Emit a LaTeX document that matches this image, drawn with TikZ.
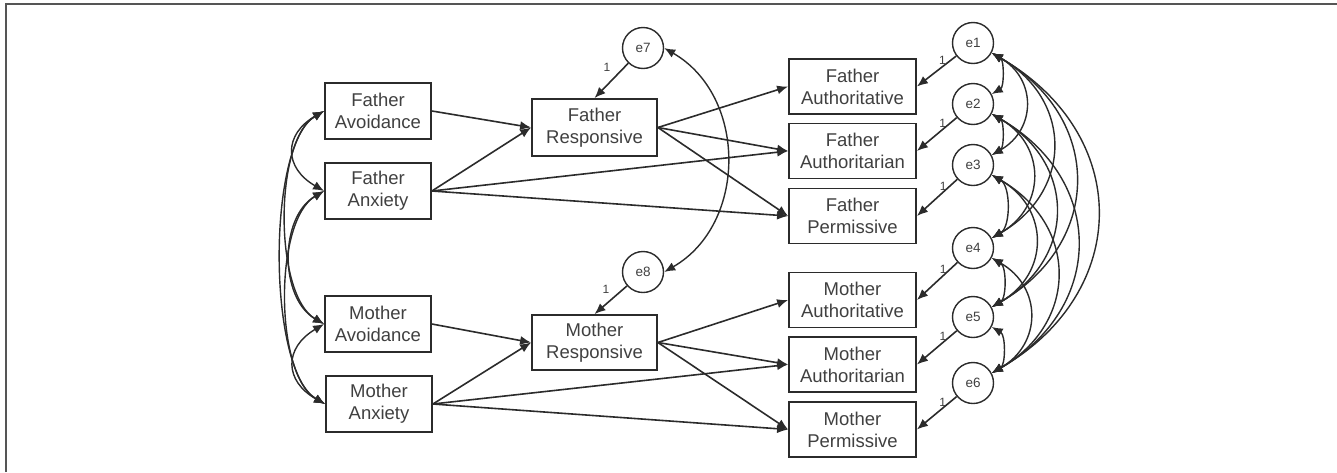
\documentclass[tikz,border=0pt]{standalone}
\usepackage{fontspec}
\setmainfont{Liberation Sans}
\usepackage{xcolor}
\usetikzlibrary{arrows.meta}
\definecolor{ink}{HTML}{2B2B2B}
\definecolor{inkgray}{HTML}{404040}
\definecolor{framegray}{HTML}{555555}
\tikzset{
  varbox/.style={draw=ink,fill=white,line width=1.8pt,
                 minimum width=106pt,minimum height=56pt,inner sep=0pt,
                 align=center,text=inkgray,font=\fontsize{18.5}{22}\selectfont},
  errcirc/.style={circle,draw=ink,fill=white,line width=1.4pt,
                  minimum size=41pt,inner sep=0pt,
                  text=inkgray,font=\fontsize{13.5}{15}\selectfont},
  patharr/.style={-{Latex[length=11pt,width=9pt]},line width=1.6pt,color=ink},
  covarr/.style={{Latex[length=11pt,width=9pt]}-{Latex[length=11pt,width=9pt]},line width=1.4pt,color=ink},
  onelbl/.style={font=\fontsize{12}{13}\selectfont,text=inkgray,inner sep=1pt}
}

\begin{document}
\begin{tikzpicture}[x=1pt,y=1pt]
  \useasboundingbox (0,0) rectangle (1337,-472);
  \draw[framegray,line width=2pt] (6,-472) -- (6,-4) -- (1337,-4);

  % attachment
  \node[varbox] (favo) at (378,-111) {Father\\Avoidance};
  \node[varbox] (fanx) at (378,-191) {Father\\Anxiety};
  \node[varbox] (mavo) at (378,-324) {Mother\\Avoidance};
  \node[varbox] (manx) at (379,-404) {Mother\\Anxiety};

  % responsiveness
  \node[varbox,minimum width=125pt,minimum height=57pt] (fresp) at (594.5,-127.5) {Father\\Responsive};
  \node[varbox,minimum width=125pt,minimum height=55pt] (mresp) at (594.5,-342.5) {Mother\\Responsive};
  \node[errcirc] (e7) at (643,-48) {e7};
  \node[errcirc] (e8) at (643,-272) {e8};

  % parenting styles
  \node[varbox,minimum width=127pt,minimum height=55pt] (fauth) at (852.5,-86.5) {Father\\Authoritative};
  \node[varbox,minimum width=127pt,minimum height=55pt] (fautr) at (852.5,-151) {Father\\Authoritarian};
  \node[varbox,minimum width=127pt,minimum height=55pt] (fperm) at (852.5,-216) {Father\\Permissive};
  \node[varbox,minimum width=127pt,minimum height=55pt] (mauth) at (852.5,-300) {Mother\\Authoritative};
  \node[varbox,minimum width=127pt,minimum height=55pt] (mautr) at (852.5,-364.5) {Mother\\Authoritarian};
  \node[varbox,minimum width=127pt,minimum height=55pt] (mperm) at (852.5,-429.5) {Mother\\Permissive};

  \node[errcirc] (e1) at (973,-43) {e1};
  \node[errcirc] (e2) at (973,-104) {e2};
  \node[errcirc] (e3) at (973,-165) {e3};
  \node[errcirc] (e4) at (973,-248) {e4};
  \node[errcirc] (e5) at (973,-317) {e5};
  \node[errcirc] (e6) at (973,-383) {e6};

  % regression paths
  \draw[patharr] (favo.east) -- (fresp.west);
  \draw[patharr] (fanx.east) -- (fresp.west);
  \draw[patharr] (fanx.east) -- (fautr.west);
  \draw[patharr] (fanx.east) -- (fperm.west);
  \draw[patharr] (fresp.east) -- (fauth.west);
  \draw[patharr] (fresp.east) -- (fautr.west);
  \draw[patharr] (fresp.east) -- (fperm.west);

  \draw[patharr] (mavo.east) -- (mresp.west);
  \draw[patharr] (manx.east) -- (mresp.west);
  \draw[patharr] (manx.east) -- (mautr.west);
  \draw[patharr] (manx.east) -- (mperm.west);
  \draw[patharr] (mresp.east) -- (mauth.west);
  \draw[patharr] (mresp.east) -- (mautr.west);
  \draw[patharr] (mresp.east) -- (mperm.west);

  % residuals
  \draw[patharr] (e7) -- node[onelbl,pos=0.12,left=12pt] {1} (fresp.north);
  \draw[patharr] (e8) -- node[onelbl,pos=0.12,left=12pt] {1} (mresp.north);
  \draw[patharr] (e1) -- node[onelbl,pos=0.35,above] {1} (fauth.east);
  \draw[patharr] (e2) -- node[onelbl,pos=0.35,above] {1} (fautr.east);
  \draw[patharr] (e3) -- node[onelbl,pos=0.35,above] {1} (fperm.east);
  \draw[patharr] (e4) -- node[onelbl,pos=0.35,above] {1} (mauth.east);
  \draw[patharr] (e5) -- node[onelbl,pos=0.35,above] {1} (mautr.east);
  \draw[patharr] (e6) -- node[onelbl,pos=0.35,above] {1} (mperm.east);

  % covariances
  \draw[covarr] (favo.west) to[bend right=60,looseness=1.5] (fanx.west);
  \draw[covarr] (mavo.west) to[bend right=60,looseness=1.5] (manx.west);
  \draw[covarr] (fanx.west) to[bend right=60,looseness=1.0] (mavo.west);
  \draw[covarr] (favo.west) to[bend right=60,looseness=0.7] (mavo.west);
  \draw[covarr] (fanx.west) to[bend right=60,looseness=0.7] (manx.west);
  \draw[covarr] (favo.west) to[bend right=60,looseness=0.58] (manx.west);

  \draw[covarr] (e7.east) to[bend left=60,looseness=1.1] (e8.east);

  \foreach \a/\b in {1/2,2/3,3/4,4/5,5/6}
    \draw[covarr] (e\a.-28) to[bend left=60,looseness=0.9] (e\b.28);
  \foreach \a/\b in {1/3,1/4,1/5,1/6,2/4,2/5,2/6,3/5,3/6,4/6}
    \draw[covarr] (e\a.-28) to[bend left=60,looseness=1.3] (e\b.28);
\end{tikzpicture}
\end{document}
